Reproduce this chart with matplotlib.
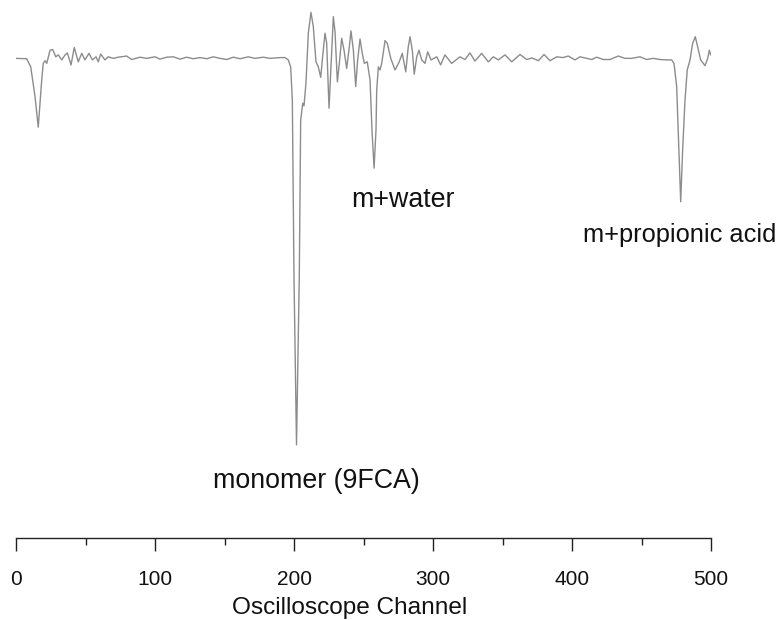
import matplotlib
matplotlib.use("Agg")
import matplotlib.pyplot as plt
from matplotlib.ticker import MultipleLocator

plt.rcParams['font.family'] = ['Liberation Sans', 'DejaVu Sans']

# Depletion trace: oscilloscope channel vs. signal (arbitrary units, baseline = 0)
channel = [
    0.0, 7.7, 10.6, 13.7, 16.0, 18.5, 19.6, 20.9, 22.1, 24.5, 26.4, 28.6, 30.4,
    32.9, 35.3, 36.9, 39.6, 41.9, 44.8, 47.3, 49.6, 52.5, 54.9, 57.6, 59.2, 60.9,
    64.0, 66.4, 70.0, 73.6, 79.6, 83.2, 89.2, 94.0, 100.0, 103.6, 108.4, 113.2,
    118.0, 122.8, 127.6, 132.4, 137.2, 141.9, 146.8, 151.6, 156.3, 161.2, 167.1,
    171.9, 177.9, 182.7, 189.9, 193.5, 195.9, 197.6, 198.8, 200.0, 201.8, 203.8,
    204.8, 206.3, 207.2, 208.6, 210.3, 212.2, 213.9, 215.8, 217.5, 219.2, 220.6,
    222.3, 223.5, 225.2, 226.6, 228.3, 229.5, 231.2, 232.6, 234.3, 236.0, 237.9,
    239.8, 241.0, 242.7, 244.4, 245.8, 247.5, 249.1, 250.6, 252.7, 254.7, 256.1,
    257.6, 259.0, 259.5, 260.7, 261.9, 263.1, 265.5, 267.1, 269.6, 272.7, 275.7,
    277.9, 280.4, 282.2, 283.5, 285.1, 286.5, 288.3, 289.9, 291.9, 294.2, 296.2,
    298.6, 302.7, 305.5, 308.6, 313.4, 319.4, 323.0, 326.6, 330.2, 335.0, 339.8,
    343.4, 347.0, 351.8, 356.6, 362.6, 367.4, 371.2, 375.8, 379.9, 384.2, 389.0,
    393.5, 397.3, 402.2, 405.8, 410.6, 414.2, 417.8, 422.5, 427.3, 433.3, 438.1,
    442.9, 448.9, 453.7, 458.3, 463.3, 468.1, 471.7, 473.4, 475.3, 476.5, 478.2,
    479.6, 481.3, 482.9, 484.9, 486.8, 488.7, 490.4, 492.6, 495.7, 497.6, 498.8,
    499.8,
]
signal = [
    0.0, -0.1, -2.2, -9.9, -17.8, -5.6, -1.3, -0.6, -1.3, 2.1, 2.3, 0.4, 0.9,
    -0.4, 0.9, 1.4, -1.7, 2.8, -0.9, 1.3, -0.4, 1.3, -0.4, 0.4, -0.9, 1.1,
    -0.4, 0.4, 0.0, 0.3, 0.6, -0.3, 0.3, 0.0, 0.4, -0.2, 0.3, 0.4,
    -0.2, 0.3, -0.1, 0.2, -0.1, 0.4, 0.0, -0.3, 0.3, -0.1, 0.4,
    0.0, 0.3, 0.0, 0.2, 0.2, -0.4, -2.2, -10.8, -56.6, -100.0, -56.6,
    -16.0, -11.6, -12.3, -6.4, 6.5, 11.9, 8.2, -0.9, -2.2, -4.9, 0.4,
    6.5, 4.0, -12.9, -2.2, 10.8, 6.9, -6.1, -1.3, 5.2, 2.1, -2.6,
    3.0, 7.1, 2.1, -7.3, -0.4, 5.0, 1.3, -1.3, -0.9, -5.6, -18.5,
    -28.4, -18.5, -8.2, -2.2, -3.0, -1.3, 4.6, 3.9, 0.0, -3.0, -0.9,
    1.3, -3.5, 3.0, 5.6, 2.1, -4.1, 0.4, 2.1, -0.4, -1.3, 1.7,
    -0.4, 0.4, -1.7, 0.9, -1.3, 0.4, -0.3, 1.4, -0.7, 1.3, -0.9,
    0.4, -0.4, 0.9, -0.9, 1.0, -0.3, 0.1, -0.6, 1.0, -0.6, 0.4,
    0.2, 0.6, -0.4, 0.4, 0.0, -0.3, 0.3, -0.3, -0.3, 0.6, 0.0,
    0.0, 0.4, -0.3, 0.0, -0.3, -0.4, -0.4, -1.3, -7.3, -19.4, -37.1,
    -23.7, -10.8, -3.0, -0.4, 3.9, 5.6, 3.0, -0.4, -1.9, 0.0, 2.1,
    0.9,
]

# Peak assignments
peak_labels = ["monomer (9FCA)", "m+water", "m+propionic acid"]
label_channel = [141.7, 241.5, 407.9]
label_signal = [-111.1, -38.4, -47.4]
label_size = [19.3, 19.3, 18.3]

x_ticks = [0, 100, 200, 300, 400, 500]
x_label = "Oscilloscope Channel"

fig = plt.figure(figsize=(7.79, 6.20), dpi=100)
ax = fig.add_axes([16 / 779, 1 - 538 / 620, 695 / 779, 538 / 620])

ax.plot(channel, signal, color="#8c8c8c", lw=1.0, solid_joinstyle="round")

for txt, cx, cy, fs in zip(peak_labels, label_channel, label_signal, label_size):
    ax.text(cx, cy, txt, ha="left", va="baseline", fontsize=fs, color="#111111")

ax.set_xlim(0, 500)
ax.set_ylim(-124.1, 15.1)

for side in ("left", "right", "top"):
    ax.spines[side].set_visible(False)
ax.spines["bottom"].set_linewidth(1.0)
ax.spines["bottom"].set_color("#222222")
ax.set_yticks([])

ax.set_xticks(x_ticks)
ax.xaxis.set_minor_locator(MultipleLocator(50))
ax.tick_params(axis="x", which="major", direction="out", length=9, width=1.0,
               labelsize=15, pad=14, color="#222222", labelcolor="#111111")
ax.tick_params(axis="x", which="minor", direction="out", length=5, width=1.0,
               color="#222222")
ax.set_xlabel(x_label, fontsize=17.6, color="#111111")
ax.xaxis.set_label_coords(0.4806, -0.1097)

fig.savefig("out.png", dpi=100)
